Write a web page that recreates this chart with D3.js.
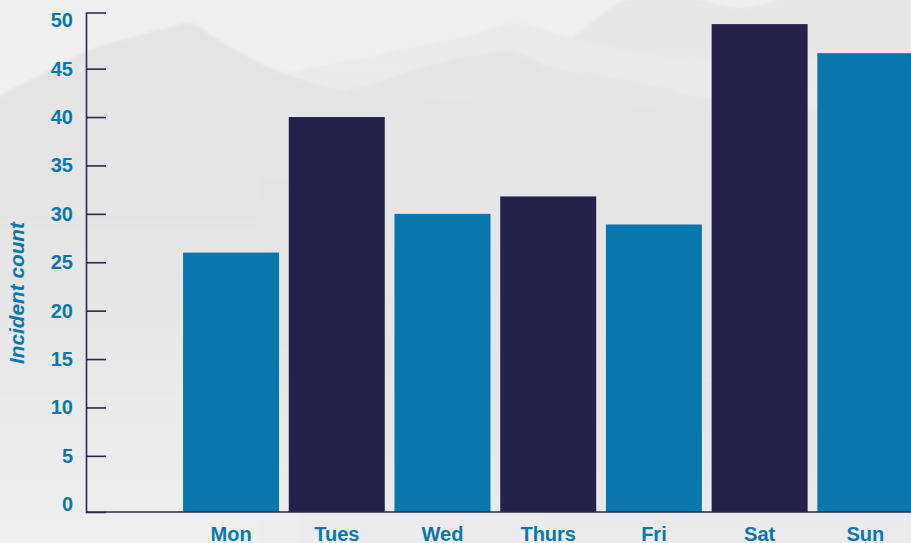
<!DOCTYPE html>
<html>
<head>
<meta charset="utf-8">
<script src="https://cdn.jsdelivr.net/npm/d3@7"></script>
<style>
  html, body { margin: 0; padding: 0; background: #efefef; overflow: hidden; }
  svg { display: block; }
  text { font-family: "Liberation Sans", Arial, Helvetica, sans-serif; }
</style>
</head>
<body>
<svg id="chart" width="911" height="543"></svg>
<script>
const days = ["Mon", "Tues", "Wed", "Thurs", "Fri", "Sat", "Sun"];
const incidents = [26, 40, 30, 31.8, 28.9, 49.6, 46.6];
const barColors = ["#0877ae", "#24224a", "#0877ae", "#24224a", "#0877ae", "#24224a", "#0877ae"];
const yTicks = [0, 5, 10, 15, 20, 25, 30, 35, 40, 45, 50];
const yTitle = "Incident count";

const W = 911, H = 543;
const svg = d3.select("#chart");
const navy = "#2a2752";
const blue = "#0a78b0";

// ---- misty mountain background (decorative) ----
const defs = svg.append("defs");
const bg = defs.append("linearGradient").attr("id", "bg").attr("x1", 0).attr("y1", 0).attr("x2", 0).attr("y2", 1);
bg.append("stop").attr("offset", "0%").attr("stop-color", "#efefef");
bg.append("stop").attr("offset", "30%").attr("stop-color", "#f2f2f2");
bg.append("stop").attr("offset", "100%").attr("stop-color", "#f0f0f0");
svg.append("rect").attr("width", W).attr("height", H).attr("fill", "url(#bg)");

function fadeGrad(id, c) {
  const g = defs.append("linearGradient").attr("id", id).attr("gradientUnits", "userSpaceOnUse")
    .attr("x1", 0).attr("y1", 0).attr("x2", 0).attr("y2", 540);
  g.append("stop").attr("offset", "0%").attr("stop-color", c).attr("stop-opacity", 1);
  g.append("stop").attr("offset", "55%").attr("stop-color", c).attr("stop-opacity", 0.85);
  g.append("stop").attr("offset", "100%").attr("stop-color", c).attr("stop-opacity", 0.15);
}
fadeGrad("m0", "#e7e7e7");
fadeGrad("m1", "#eaeaea");
fadeGrad("m2", "#e4e4e4");
fadeGrad("m3", "#e5e5e5");

const blur = defs.append("filter").attr("id", "blur").attr("x", "-5%").attr("y", "-5%").attr("width", "110%").attr("height", "110%");
blur.append("feGaussianBlur").attr("stdDeviation", 1.5);

const bgG = svg.append("g").attr("filter", "url(#blur)");
const mountains = [
  // far right peak
  [[540,60],[580,32],[605,12],[625,0],[680,-5],[740,8],[800,-5],[911,-5]],
  // far middle ridge
  [[260,80],[300,70],[360,58],[420,45],[470,35],[513,23],[540,28],[580,40],[650,55],[911,60]],
  // left peak
  [[-5,98],[40,75],[90,50],[140,35],[170,27],[188,23],[200,27],[215,38],[245,55],[280,72],[337,90],[380,96],[911,120]],
  // lower ridge
  [[300,100],[337,92],[380,82],[413,70],[460,58],[513,52],[547,66],[600,76],[660,88],[720,100],[800,108],[911,112]]
];
const fills = ["url(#m0)", "url(#m1)", "url(#m2)", "url(#m3)"];
mountains.forEach((pts, i) => {
  const last = pts[pts.length - 1], first = pts[0];
  bgG.append("path")
    .attr("d", d3.line().curve(d3.curveCatmullRom)(pts) + `L${last[0]},560L${first[0]},560Z`)
    .attr("fill", fills[i]);
});

// ---- scales ----
const x = d3.scaleBand().domain(days).range([178.2, 918.2]).paddingInner(0.092).paddingOuter(0.046);
const y = d3.scaleLinear().domain([-0.8, 50.8]).range([512, 12.5]);
const x0 = 86;

// ---- bars ----
svg.append("g").selectAll("rect").data(days).join("rect")
  .attr("x", d => x(d))
  .attr("width", x.bandwidth())
  .attr("y", (d, i) => y(incidents[i]))
  .attr("height", (d, i) => y.range()[0] - y(incidents[i]))
  .attr("fill", (d, i) => barColors[i]);

// ---- y axis ----
const yAxis = d3.axisLeft(y).tickValues(yTicks).tickSizeInner(-20).tickSizeOuter(-20).tickPadding(13);
const yg = svg.append("g").attr("transform", `translate(${x0},0)`).call(yAxis);
yg.select(".domain").attr("stroke", navy).attr("stroke-width", 1.6);
yg.selectAll(".tick line").attr("stroke", navy).attr("stroke-width", 1.6)
  .attr("display", d => (d === 0 || d === 50) ? "none" : null);
yg.selectAll(".tick text").attr("fill", blue).attr("font-size", 20).attr("font-weight", "bold")
  .attr("font-family", "'Liberation Sans', Arial, sans-serif");

// ---- x axis ----
const xAxis = d3.axisBottom(x).tickSize(0).tickPadding(15);
const xg = svg.append("g").attr("transform", `translate(0,${y.range()[0]})`).call(xAxis);
xg.select(".domain").remove();
xg.append("line").attr("x1", x0).attr("x2", W).attr("y1", 0).attr("y2", 0)
  .attr("stroke", navy).attr("stroke-width", 1.6);
xg.selectAll(".tick text").attr("fill", blue).attr("font-size", 20).attr("font-weight", "bold")
  .attr("font-family", "'Liberation Sans', Arial, sans-serif");

// ---- y title ----
const yt = svg.append("text")
  .attr("transform", "translate(24,293) rotate(-90)")
  .attr("text-anchor", "middle")
  .attr("fill", blue)
  .attr("font-size", 20)
  .attr("font-style", "italic")
  .attr("font-weight", "bold")
  .text(yTitle);
const len = yt.node().getComputedTextLength();
if (len > 0) yt.attr("font-size", 20 * 142 / len);
</script>
</body>
</html>
